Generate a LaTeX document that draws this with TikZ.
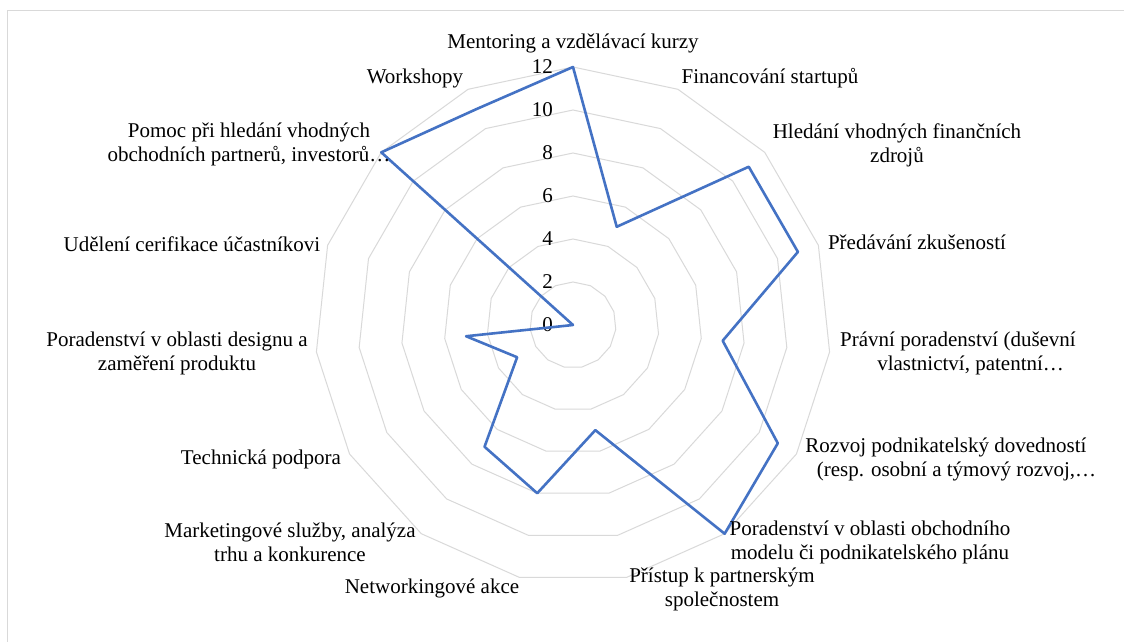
\documentclass[tikz,border=0pt]{standalone}
\usepackage{fontspec}
\setmainfont{Liberation Serif}
\definecolor{gridgray}{HTML}{D9D9D9}
\definecolor{seriesblue}{HTML}{4472C4}
\begin{document}
\begin{tikzpicture}[x=1pt,y=1pt,
  gridring/.style={draw=gridgray, line width=1pt},
  series/.style={draw=seriesblue, line width=2.6pt, line join=round},
  cat/.style={font=\fontsize{21}{24}\selectfont, align=center, inner sep=0pt, text=black},
  tick/.style={font=\fontsize{21}{24}\selectfont, anchor=east, inner sep=0pt, text=black}]
% canvas, origin at the centre of the radar
\fill[white] (-573,-317) rectangle (551,325);
\useasboundingbox (-573,-317) rectangle (551,325);
% chart frame
\draw[gridgray, line width=1pt] (-565,-317) -- (-565,314) -- (551,314);
% value rings (15 categories, 21.5pt per unit)
\foreach \v in {2,4,...,12} {
  \draw[gridring] (90:{\v*21.5}) \foreach \k in {1,...,14} { -- ({90-24*\k}:{\v*21.5}) } -- cycle;
}
% value axis labels
\foreach \v in {0,2,...,12} {
  \node[tick] (t\v) at (-20,{\v*21.5}) {\v};
}
% data points
\foreach \val [count=\i] in {12,5,11,11,7,11,12,5,8,7,3,5,0,12,11} {
  \coordinate (p\i) at ({90-24*(\i-1)}:{\val*21.5});
}
\draw[series] (p1) -- (p2) -- (p3) -- (p4) -- (p5) -- (p6) -- (p7) -- (p8)
  -- (p9) -- (p10) -- (p11) -- (p12) -- (p13) -- (p14) -- (p15) -- cycle;
% category labels
\node[cat] (c1) at (0,282) {Mentoring a vzdělávací kurzy};
\node[cat] (c2) at (197,247) {Financování startupů};
\node[cat] (c3) at (324,180) {Hledání vhodných finančních\\zdrojů};
\node[cat] (c4) at (344,83) {Předávání zkušeností};
\node[cat] (c5) at (385,-28) {Právní poradenství (duševní\\\hspace*{1.2em}vlastnictví, patentní…};
\node[cat] (c6) at (373,-134) {Rozvoj podnikatelský dovedností\\\hspace*{1em}(resp. osobní a týmový rozvoj,…};
\node[cat] (c7) at (297,-217) {Poradenství v oblasti obchodního\\modelu či podnikatelského plánu};
\node[cat] (c8) at (149,-264) {Přístup k partnerským\\společnostem};
\node[cat] (c9) at (-141,-263) {Networkingové akce};
\node[cat] (c10) at (-283,-217) {Marketingové služby, analýza\\trhu a konkurence};
\node[cat] (c11) at (-312,-134) {Technická podpora};
\node[cat] (c12) at (-396,-28) {Poradenství v oblasti designu a\\zaměření produktu};
\node[cat] (c13) at (-381,81) {Udělení cerifikace účastníkovi};
\node[cat] (c14) at (-324,181) {Pomoc při hledání vhodných\\obchodních partnerů, investorů…};
\node[cat] (c15) at (-158,247) {Workshopy};
\end{tikzpicture}
\end{document}
